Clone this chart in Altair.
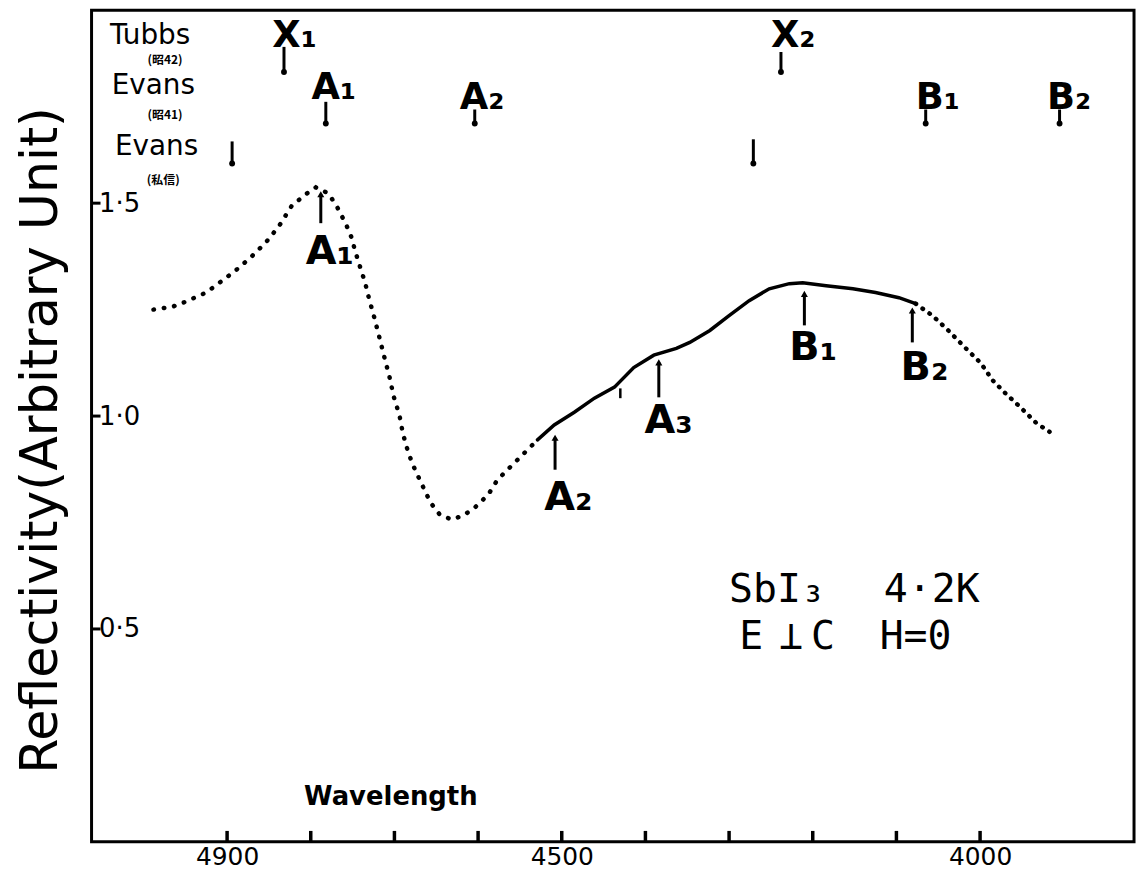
import altair as alt
import pandas as pd

# ---- reflectivity curve (wavelength in Angstrom, reflectivity in arbitrary units) ----
wavelength = [4988, 4965, 4949, 4925, 4901, 4886, 4870, 4854, 4838, 4823,
              4806, 4794, 4779, 4769, 4758, 4751, 4747, 4741, 4735, 4730,
              4724, 4718, 4712, 4706, 4701, 4694, 4690, 4685, 4679, 4673,
              4667, 4657, 4646, 4632, 4618, 4604, 4588, 4577, 4553, 4529,
              4509, 4485, 4461, 4437, 4414, 4390, 4363, 4347, 4323, 4300,
              4276, 4252, 4228, 4212, 4184, 4152, 4125, 4097, 4077, 4057,
              4038, 4018, 3999, 3985, 3970, 3951, 3933, 3917]
reflectivity = [1.250, 1.257, 1.269, 1.290, 1.325, 1.348, 1.376, 1.407, 1.446, 1.493,
                1.521, 1.537, 1.523, 1.493, 1.451, 1.418, 1.388, 1.350, 1.313, 1.273,
                1.231, 1.185, 1.138, 1.093, 1.047, 1.002, 0.960, 0.925, 0.890, 0.864,
                0.839, 0.797, 0.769, 0.757, 0.766, 0.785, 0.815, 0.850, 0.897, 0.944,
                0.979, 1.009, 1.042, 1.068, 1.114, 1.143, 1.159, 1.173, 1.201, 1.236,
                1.271, 1.299, 1.311, 1.313, 1.306, 1.299, 1.290, 1.278, 1.264, 1.236,
                1.201, 1.161, 1.124, 1.084, 1.054, 1.019, 0.984, 0.963]

# ---- axis ticks / labels ----
x_label_values = [4900, 4500, 4000]
x_minor_ticks = [4900, 4800, 4700, 4600, 4500, 4400, 4300, 4200, 4100, 4000]
y_label_values = [0.5, 1.0, 1.5]

# ---- arrows on the curve (pointing up) ----
curve_arrow_wl = [4788, 4508, 4384, 4210, 4081]
curve_arrow_tip = [1.521, 0.949, 1.126, 1.287, 1.248]
curve_arrow_base = [1.453, 0.874, 1.044, 1.213, 1.173]
curve_labels = ["A₁", "A₂", "A₃", "B₁", "B₂"]
curve_label_wl = [4806, 4521, 4401, 4228, 4095]
curve_label_val = [1.357, 0.780, 0.960, 1.131, 1.084]

# ---- literature markers at the top (pointing down) ----
top_arrow_wl = [4832, 4782, 4238, 4604, 4065, 3905, 4894, 4271]
top_arrow_top = [1.867, 1.738, 1.855, 1.720, 1.720, 1.720, 1.645, 1.650]
top_arrow_end = [1.808, 1.687, 1.808, 1.687, 1.687, 1.687, 1.593, 1.593]
top_labels = ["X₁", "A₁", "X₂", "A₂", "B₁", "B₂"]
top_label_wl = [4846, 4799, 4250, 4622, 4077, 3920]
top_label_val = [1.867, 1.745, 1.867, 1.722, 1.722, 1.722]

source_names = ["Tubbs", "Evans", "Evans"]
source_wl = [5040, 5038, 5034]
source_val = [1.874, 1.757, 1.614]
source_notes = ["(昭42)", "(昭41)", "(私信)"]
note_wl = [4995, 4995, 4996]
note_val = [1.826, 1.697, 1.545]

legend_text = ["SbI₃", "4·2K", "E", "⊥", "C", "H=0"]
legend_wl = [4300, 4115, 4288, 4240, 4202, 4120]
legend_val = [0.563, 0.563, 0.454, 0.454, 0.454, 0.454]

xlabel_text = ["Wavelength"]
xlabel_wl = [4808]
xlabel_val = [0.086]

mark_wl = [4430]
mark_lo = [1.042]
mark_hi = [1.065]

W, H = 1048, 836

curve = pd.DataFrame({"wl": wavelength, "val": reflectivity})
xs = alt.Scale(domain=[3816, 5062], reverse=True, nice=False, zero=False)
ys = alt.Scale(domain=[0, 1.953], nice=False, zero=False)

X = alt.X("wl:Q", scale=xs, title=None,
          axis=alt.Axis(values=x_label_values, ticks=False, domain=False, grid=False,
                        labelFontSize=25, labelPadding=3, format="d",
                        labelFont="DejaVu Sans", labelColor="black"))
Y = alt.Y("val:Q", scale=ys, title="Reflectivity(Arbitrary Unit)",
          axis=alt.Axis(values=y_label_values, ticks=False, domain=False, grid=False,
                        labelAlign="left", labelPadding=-7, labelFontSize=26,
                        labelBaseline="middle", labelFont="DejaVu Sans", labelColor="black",
                        labelExpr="replace(format(datum.value, '.1f'), '.', '·')",
                        titleFontSize=51, titleFontWeight="normal", titleFont="DejaVu Sans",
                        titleColor="black", titleAngle=270, titleX=-35, titleY=432,
                        titleAlign="center", titleBaseline="alphabetic"))

base = alt.Chart(curve)
dot_left = base.mark_line(color="black", strokeWidth=4.5, strokeCap="round",
                          strokeDash=[0.5, 10]).encode(x=X, y=Y).transform_filter(alt.datum.wl >= 4529)
solid = base.mark_line(color="black", strokeWidth=3.5, strokeCap="round").encode(
    x=X, y=Y).transform_filter((alt.datum.wl <= 4529) & (alt.datum.wl >= 4077))
dot_right = base.mark_line(color="black", strokeWidth=4.5, strokeCap="round",
                           strokeDash=[0.5, 8]).encode(x=X, y=Y).transform_filter(alt.datum.wl <= 4077)

# axis ticks pointing inward
xt = alt.Chart(pd.DataFrame({"wl": x_minor_ticks})).mark_rule(color="black", strokeWidth=3.5).encode(
    x=X, y=alt.value(H), y2=alt.value(H - 11))
yt = alt.Chart(pd.DataFrame({"val": y_label_values})).mark_rule(color="black", strokeWidth=3).encode(
    y=Y, x=alt.value(0), x2=alt.value(9))

# arrows on curve
ca = pd.DataFrame({"wl": curve_arrow_wl, "val": curve_arrow_tip, "val2": curve_arrow_base})
ca_rule = alt.Chart(ca).mark_rule(color="black", strokeWidth=3).encode(x=X, y=Y, y2="val2:Q")
ca_head = alt.Chart(ca).mark_point(shape="triangle-up", filled=True, color="black", size=50,
                                   opacity=1).encode(x=X, y=Y)
cl = pd.DataFrame({"wl": curve_label_wl, "val": curve_label_val, "t": curve_labels})
cl_text = alt.Chart(cl).mark_text(align="left", baseline="alphabetic", fontSize=40, fontWeight="bold",
                                  font="DejaVu Sans", color="black").encode(x=X, y=Y, text="t:N")

# top markers
ta = pd.DataFrame({"wl": top_arrow_wl, "val": top_arrow_top, "val2": top_arrow_end})
ta_rule = alt.Chart(ta).mark_rule(color="black", strokeWidth=3).encode(x=X, y=Y, y2="val2:Q")
ta_dot = alt.Chart(pd.DataFrame({"wl": top_arrow_wl, "val": top_arrow_end})).mark_point(
    shape="circle", filled=True, color="black", size=35, opacity=1).encode(x=X, y=Y)
tl = pd.DataFrame({"wl": top_label_wl, "val": top_label_val, "t": top_labels})
tl_text = alt.Chart(tl).mark_text(align="left", baseline="alphabetic", fontSize=37, fontWeight="bold",
                                  font="DejaVu Sans", color="black").encode(x=X, y=Y, text="t:N")

src = pd.DataFrame({"wl": source_wl, "val": source_val, "t": source_names})
src_text = alt.Chart(src).mark_text(align="left", baseline="alphabetic", fontSize=28,
                                    font="DejaVu Sans", color="black").encode(x=X, y=Y, text="t:N")
nt = pd.DataFrame({"wl": note_wl, "val": note_val, "t": source_notes})
nt_text = alt.Chart(nt).mark_text(align="left", baseline="alphabetic", fontSize=12, fontWeight="bold",
                                  font="Noto Sans CJK JP", color="black").encode(x=X, y=Y, text="t:N")

lg = pd.DataFrame({"wl": legend_wl, "val": legend_val, "t": legend_text})
lg_text = alt.Chart(lg).mark_text(align="left", baseline="alphabetic", fontSize=40,
                                  font="DejaVu Sans Mono", color="black").encode(x=X, y=Y, text="t:N")

xl = pd.DataFrame({"wl": xlabel_wl, "val": xlabel_val, "t": xlabel_text})
xl_text = alt.Chart(xl).mark_text(align="left", baseline="alphabetic", fontSize=26, fontWeight="bold",
                                  font="DejaVu Sans", color="black").encode(x=X, y=Y, text="t:N")

mk = pd.DataFrame({"wl": mark_wl, "val": mark_hi, "val2": mark_lo})
mk_rule = alt.Chart(mk).mark_rule(color="black", strokeWidth=2.5).encode(x=X, y=Y, y2="val2:Q")

chart = alt.layer(
    dot_left, solid, dot_right, xt, yt, ca_rule, ca_head, cl_text,
    ta_rule, ta_dot, tl_text, src_text, nt_text, lg_text, xl_text, mk_rule
).properties(
    width=W, height=H,
    background="white",
    autosize=alt.AutoSizeParams(type="none"),
    padding={"left": 84, "top": 0, "right": 5, "bottom": 27},
).configure_view(
    stroke="black", strokeWidth=3
)

chart.save("out.html", embed_options={"renderer": "svg", "actions": False})
